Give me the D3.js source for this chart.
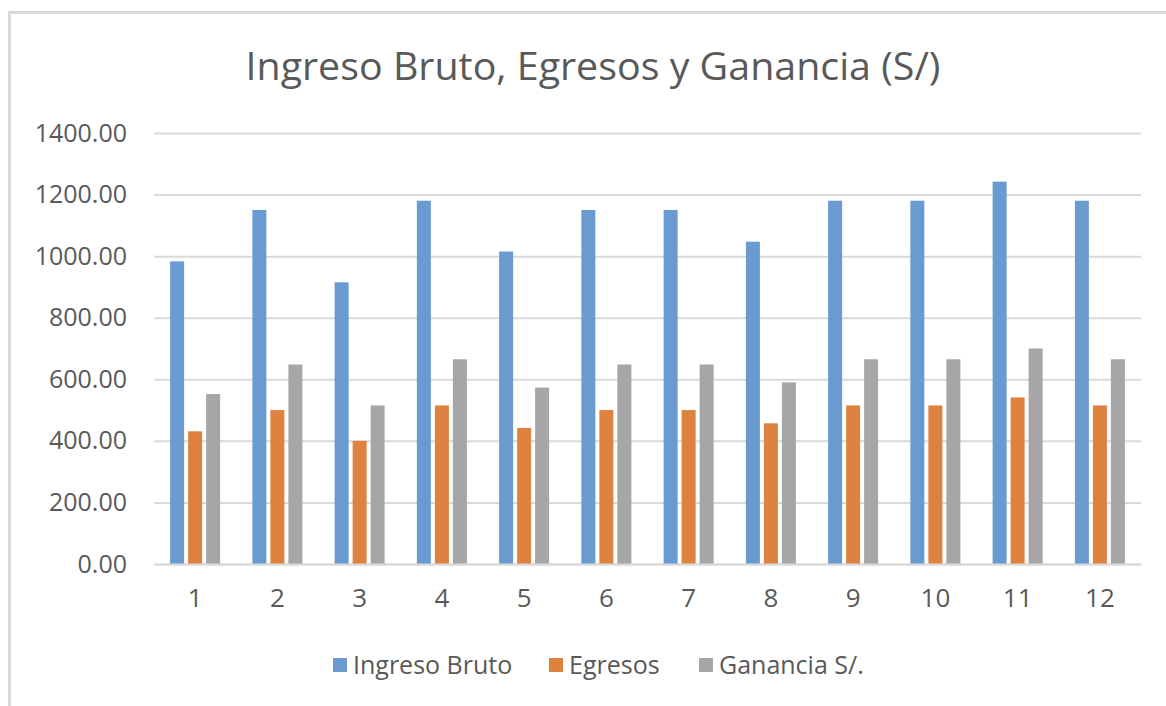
<!DOCTYPE html>
<html>
<head>
  <meta charset="UTF-8">
  <title>Ingreso Bruto, Egresos y Ganancia</title>
  <script src="https://d3js.org/d3.v7.min.js"></script>
  <style>
    body { margin: 0; background: #fff; }
    svg { display: block; font-family: "Open Sans", sans-serif; }
  </style>
</head>
<body>
  <svg></svg>
</body>
<script>
  let width = 1166,
    height = 706;

  // data
  let months = ["1", "2", "3", "4", "5", "6", "7", "8", "9", "10", "11", "12"];
  let ingresoBruto = [983, 1150, 915, 1180, 1015, 1150, 1150, 1047, 1180, 1180, 1242, 1180];
  let egresos = [431, 500, 400, 515, 442, 500, 500, 457, 515, 515, 541, 515];
  let ganancia = [552, 648, 515, 665, 573, 648, 648, 590, 665, 665, 700, 665];
  let seriesNames = ["Ingreso Bruto", "Egresos", "Ganancia S/."];
  let seriesColors = ["#699bd0", "#e0823f", "#a6a6a6"];
  let yTicks = [0, 200, 400, 600, 800, 1000, 1200, 1400];

  let series = [ingresoBruto, egresos, ganancia];
  let rows = months.map((m, i) => ({
    month: m,
    values: seriesNames.map((s, j) => ({ key: s, value: series[j][i] }))
  }));

  let svg = d3.select("svg")
    .attr("width", width)
    .attr("height", height);

  // chart frame
  svg.append("rect")
    .attr("x", 9.5)
    .attr("y", 12.5)
    .attr("width", width + 20)
    .attr("height", height + 20)
    .attr("fill", "none")
    .attr("stroke", "#d9d9d9")
    .attr("stroke-width", 3);

  let plot = { left: 154, right: 1141, top: 133, bottom: 564 };

  let x0 = d3.scaleBand()
    .domain(months)
    .range([plot.left, plot.right])
    .paddingInner(0.392)
    .paddingOuter(0.196);

  let x1 = d3.scaleBand()
    .domain(seriesNames)
    .range([0, x0.bandwidth()])
    .paddingInner(0.222);

  let y = d3.scaleLinear()
    .domain([0, 1400])
    .range([plot.bottom, plot.top]);

  let color = d3.scaleOrdinal()
    .domain(seriesNames)
    .range(seriesColors);

  // gridlines
  svg.append("g")
    .attr("transform", "translate(" + plot.left + ",0)")
    .call(d3.axisLeft(y).tickValues(yTicks).tickSize(-(plot.right - plot.left)).tickFormat(""))
    .call(g => g.select(".domain").remove())
    .call(g => g.selectAll("line").attr("stroke", "#d9d9d9").attr("stroke-width", 2));

  // y labels
  svg.append("g")
    .attr("transform", "translate(" + plot.left + ",0)")
    .call(d3.axisLeft(y).tickValues(yTicks).tickSize(0).tickPadding(27).tickFormat(d3.format(".2f")))
    .call(g => g.select(".domain").remove())
    .call(g => g.selectAll("text")
      .attr("fill", "#595959")
      .style("font-size", "25px")
      .style("font-family", "Open Sans"));

  // bars
  svg.append("g")
    .selectAll("g")
    .data(rows)
    .enter()
    .append("g")
    .attr("transform", d => "translate(" + x0(d.month) + ",0)")
    .selectAll("rect")
    .data(d => d.values)
    .enter()
    .append("rect")
    .attr("x", d => x1(d.key))
    .attr("width", x1.bandwidth())
    .attr("y", d => y(d.value))
    .attr("height", d => y(0) - y(d.value))
    .attr("fill", d => color(d.key));

  // x axis
  svg.append("g")
    .attr("transform", "translate(0," + plot.bottom + ")")
    .call(d3.axisBottom(x0).tickSize(0).tickPadding(25))
    .call(g => g.select(".domain").attr("stroke", "#d9d9d9").attr("stroke-width", 2))
    .call(g => g.selectAll("text")
      .attr("fill", "#595959")
      .style("font-size", "26px")
      .style("font-family", "Open Sans"));

  // title
  svg.append("text")
    .attr("x", 593)
    .attr("y", 80)
    .attr("text-anchor", "middle")
    .attr("fill", "#595959")
    .style("font-size", "38px")
    .attr("textLength", 695)
    .attr("lengthAdjust", "spacingAndGlyphs")
    .text("Ingreso Bruto, Egresos y Ganancia (S/)");

  // legend
  let legendX = [333, 549, 699];
  let legend = svg.append("g")
    .selectAll("g")
    .data(seriesNames)
    .enter()
    .append("g")
    .attr("transform", (d, i) => "translate(" + legendX[i] + ",658)");

  legend.append("rect")
    .attr("width", 14)
    .attr("height", 14)
    .attr("fill", d => color(d));

  legend.append("text")
    .attr("x", 20)
    .attr("y", 7)
    .attr("dy", "0.35em")
    .attr("fill", "#595959")
    .style("font-size", "25px")
    .text(d => d);
</script>
</html>
